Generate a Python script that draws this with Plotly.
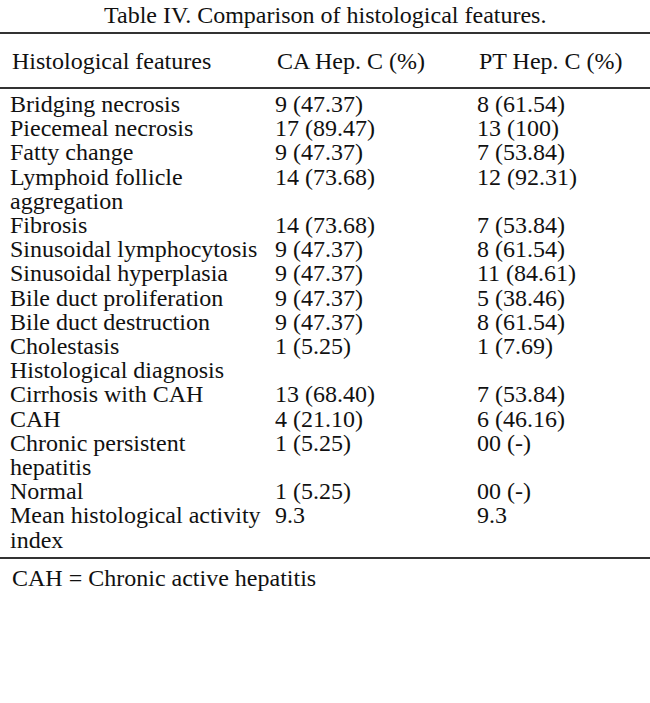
import plotly.graph_objects as go

# table contents
title = "Table IV. Comparison of histological features."
headers = ["Histological features", "CA Hep. C (%)", "PT Hep. C (%)"]
features = ["Bridging necrosis", "Piecemeal necrosis", "Fatty change",
            "Lymphoid follicle<br>aggregation", "Fibrosis", "Sinusoidal lymphocytosis",
            "Sinusoidal hyperplasia", "Bile duct proliferation", "Bile duct destruction",
            "Cholestasis", "Histological diagnosis", "Cirrhosis with CAH", "CAH",
            "Chronic persistent<br>hepatitis", "Normal",
            "Mean histological activity<br>index"]
ca_values = ["9 (47.37)", "17 (89.47)", "9 (47.37)", "14 (73.68)", "14 (73.68)",
             "9 (47.37)", "9 (47.37)", "9 (47.37)", "9 (47.37)", "1 (5.25)", "",
             "13 (68.40)", "4 (21.10)", "1 (5.25)", "1 (5.25)", "9.3"]
pt_values = ["8 (61.54)", "13 (100)", "7 (53.84)", "12 (92.31)", "7 (53.84)",
             "8 (61.54)", "11 (84.61)", "5 (38.46)", "8 (61.54)", "1 (7.69)", "",
             "7 (53.84)", "6 (46.16)", "00 (-)", "00 (-)", "9.3"]
footnote = "CAH = Chronic active hepatitis"

FONT = "Liberation Serif, Times New Roman, serif"
FS = 24
col_x = [10, 275, 477]

# spread wrapped labels over consecutive line slots
lab_y, lab_t, val_y, ca_t, pt_t = [], [], [], [], []
slot = 0
for f, c, p in zip(features, ca_values, pt_values):
    parts = f.split("<br>")
    val_y.append(slot)
    ca_t.append(c)
    pt_t.append(p)
    for part in parts:
        lab_y.append(slot)
        lab_t.append(part)
        slot += 1

fig = go.Figure()
for xs, ys, ts in [(col_x[0], lab_y, lab_t), (col_x[1], val_y, ca_t), (col_x[2], val_y, pt_t)]:
    fig.add_trace(go.Scatter(x=[xs] * len(ys), y=ys, text=ts, mode="text",
                             textposition="middle right",
                             textfont=dict(family=FONT, size=FS, color="#111"),
                             hoverinfo="skip", showlegend=False))

# title, header, footnote
fig.add_annotation(x=325, y=-3.74, text=title, showarrow=False, xanchor="center",
                   font=dict(family=FONT, size=FS, color="#111"))
for x, h in zip(col_x, headers):
    fig.add_annotation(x=x, y=-1.84, text=h, showarrow=False, xanchor="left",
                       font=dict(family=FONT, size=FS, color="#111"))
fig.add_annotation(x=col_x[0], y=slot + 0.5, text=footnote, showarrow=False, xanchor="left",
                   font=dict(family=FONT, size=FS, color="#111"))

# rules
for yy in [-3.02, -0.74, slot - 0.32]:
    fig.add_shape(type="line", xref="paper", x0=0, x1=1, y0=yy, y1=yy,
                  line=dict(color="#333", width=2))

fig.update_xaxes(range=[0, 650], visible=False)
fig.update_yaxes(range=[24.67, -4.38], visible=False)
fig.update_layout(width=650, height=703, margin=dict(l=0, r=0, t=0, b=0),
                  paper_bgcolor="white", plot_bgcolor="white")
fig.write_html("out.html", config={"displayModeBar": False},
               post_script="document.body.style.margin='0';")
